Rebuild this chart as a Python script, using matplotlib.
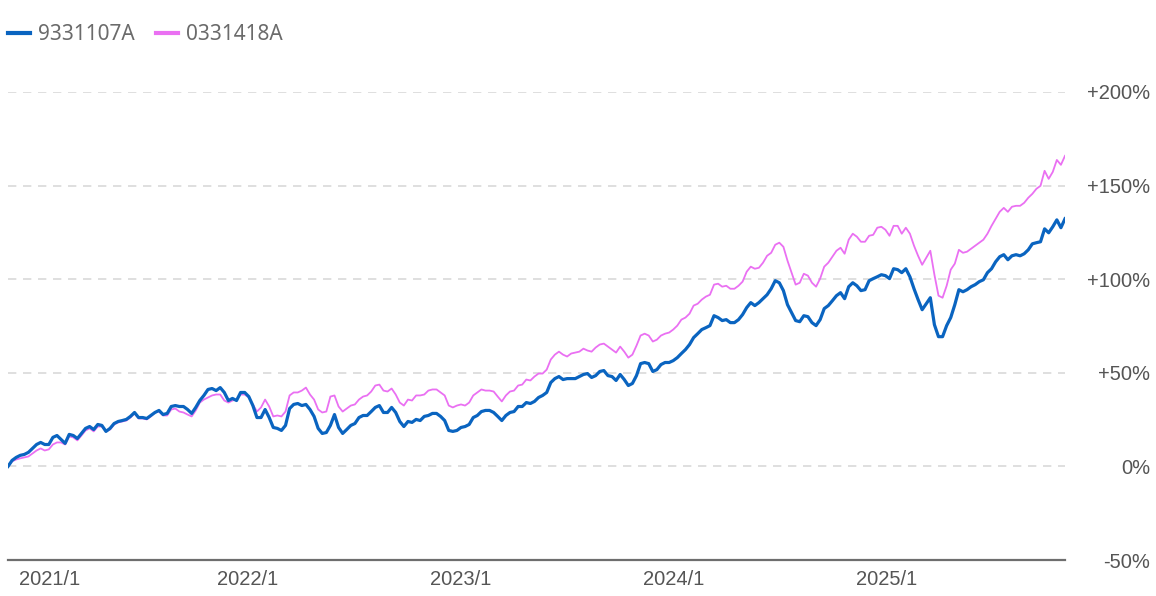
import matplotlib
matplotlib.use("Agg")
import matplotlib.pyplot as plt
import matplotlib.transforms as mtransforms
import pandas as pd

# ---- data (cumulative return, %) weekly ----
start_date = "2020-11-16"
series_names = ["9331107A", "0331418A"]

fund_a = [0, 3.2, 4.8, 5.9, 6.4, 7.5, 9.6, 11.7, 12.8, 11.7, 11.7, 15.5, 16.5, 14.4, 12.3, 17.1, 16.5, 14.9, 17.6, 20.3,
          21.3, 19.7, 22.4, 21.9, 18.7, 20.3, 22.9, 24.0, 24.5, 25.1, 26.7, 28.8, 26.1, 26.1, 25.6, 27.2, 28.8, 29.9, 27.7, 28.3,
          32.0, 32.5, 32.0, 32.0, 30.4, 28.3, 31.5, 35.2, 37.9, 41.1, 41.6, 40.5, 42.1, 39.5, 35.2, 36.3, 35.2, 39.5, 39.5, 37.3,
          32.5, 26.1, 26.1, 30.4, 26.1, 20.8, 20.3, 19.2, 21.9, 30.9, 33.1, 33.6, 32.5, 33.1, 30.4, 26.7, 20.3, 17.6, 18.1, 21.9,
          27.7, 20.8, 17.6, 19.7, 21.9, 22.9, 26.1, 27.2, 27.2, 29.3, 31.5, 32.5, 28.8, 28.8, 31.5, 28.8, 24.0, 21.3, 24.0, 23.5,
          25.1, 24.5, 26.7, 27.2, 28.3, 28.3, 26.7, 24.5, 19.2, 18.7, 19.2, 20.8, 21.3, 22.4, 26.1, 27.2, 29.3, 29.9, 29.9, 28.8,
          26.7, 24.5, 27.2, 28.8, 29.3, 32.0, 32.0, 34.1, 33.6, 34.7, 36.8, 37.9, 39.5, 44.8, 46.9, 48.0, 46.4, 46.9, 46.9, 46.9,
          48.0, 49.1, 49.6, 47.5, 48.5, 50.7, 51.2, 48.5, 48.0, 45.9, 49.1, 46.4, 43.2, 44.3, 48.5, 54.9, 55.5, 54.9, 50.7, 51.7,
          54.4, 55.5, 55.5, 56.5, 58.1, 60.3, 62.4, 65.1, 68.8, 70.9, 73.1, 74.1, 75.2, 80.5, 79.5, 77.9, 78.4, 76.8, 76.8, 78.4,
          81.1, 84.8, 87.5, 85.9, 87.5, 89.6, 91.7, 94.9, 99.2, 98.1, 93.9, 86.4, 82.1, 77.9, 77.3, 80.5, 80.0, 76.8, 75.2, 78.4,
          84.3, 85.9, 88.5, 91.2, 92.8, 89.6, 96.0, 98.1, 96.5, 93.9, 94.4, 99.2, 100.3, 101.3, 102.4, 101.9, 100.3, 105.6, 105.1, 103.5,
          105.6, 101.3, 94.9, 89.1, 83.7, 86.9, 90.1, 75.7, 69.3, 69.3, 75.2, 79.5, 86.4, 94.4, 93.3, 94.4, 96.0, 97.1, 98.7, 99.7,
          103.5, 105.6, 109.3, 112.0, 113.1, 110.4, 112.5, 113.1, 112.5, 113.6, 115.7, 118.9, 119.5, 120.0, 126.9, 124.8, 128.0, 131.7, 127.5, 132.3]

fund_b = [0, 2.7, 3.7, 4.3, 4.8, 5.3, 6.9, 8.5, 9.6, 8.5, 9.1, 11.7, 12.8, 12.8, 11.7, 16.0, 15.5, 13.9, 16.5, 19.2,
          20.3, 18.7, 21.3, 21.3, 18.7, 19.7, 22.4, 23.5, 24.0, 24.5, 26.1, 28.3, 25.6, 25.6, 25.1, 26.7, 28.8, 29.3, 27.2, 27.2,
          30.4, 30.9, 29.3, 28.8, 27.7, 26.7, 29.9, 34.1, 35.7, 36.8, 37.9, 38.4, 38.4, 35.2, 34.1, 35.2, 35.7, 38.4, 38.4, 36.8,
          33.1, 29.3, 31.5, 35.7, 32.0, 26.7, 27.2, 26.7, 29.3, 37.9, 39.5, 39.5, 40.5, 42.1, 38.4, 35.7, 30.4, 28.8, 29.3, 37.3,
          37.9, 32.0, 29.3, 30.9, 32.5, 33.1, 35.7, 37.3, 37.9, 40.0, 43.2, 43.7, 40.5, 40.0, 41.6, 38.4, 34.1, 32.5, 35.7, 35.2,
          37.9, 37.9, 38.4, 40.5, 41.1, 41.1, 39.5, 37.9, 32.5, 31.5, 32.5, 33.1, 32.5, 34.1, 37.9, 39.5, 41.1, 40.5, 40.5, 40.0,
          37.3, 34.7, 37.9, 40.0, 40.5, 43.2, 43.7, 46.4, 45.9, 48.0, 49.6, 49.6, 51.7, 57.1, 59.7, 61.3, 59.7, 58.7, 60.3, 60.8,
          61.3, 62.9, 61.9, 61.3, 63.5, 65.1, 65.6, 64.0, 62.4, 60.8, 64.0, 61.3, 58.1, 59.7, 64.5, 69.9, 70.9, 69.9, 66.7, 67.7,
          69.9, 70.9, 71.5, 73.1, 75.2, 78.4, 79.5, 81.6, 85.9, 86.9, 89.1, 90.7, 91.7, 97.1, 97.6, 96.0, 96.5, 94.9, 94.9, 96.5,
          98.7, 104.0, 106.7, 105.6, 106.1, 108.8, 112.5, 114.1, 118.4, 119.5, 117.3, 109.9, 103.5, 97.1, 98.1, 102.9, 101.9, 98.1, 96.0, 100.3,
          106.7, 108.8, 112.0, 115.2, 116.8, 113.6, 121.1, 124.3, 122.7, 120.0, 120.0, 123.2, 123.7, 127.5, 128.0, 126.4, 123.2, 128.5, 128.5, 124.3,
          127.5, 124.3, 117.9, 112.5, 107.7, 111.5, 115.2, 102.4, 91.2, 90.1, 96.5, 105.1, 108.3, 115.7, 114.1, 114.7, 116.3, 117.9, 119.5, 121.1,
          124.3, 128.5, 132.3, 136.0, 138.1, 136.0, 138.7, 139.2, 139.2, 140.8, 143.5, 145.6, 148.3, 149.9, 157.9, 153.6, 157.3, 163.7, 161.1, 165.9]

y_ticks = [-50, 0, 50, 100, 150, 200]
y_tick_labels = ["-50%", "0%", "+50%", "+100%", "+150%", "+200%"]
x_tick_dates = ["2021-01-01", "2022-01-01", "2023-01-01", "2024-01-01", "2025-01-01"]
x_tick_labels = ["2021/1", "2022/1", "2023/1", "2024/1", "2025/1"]

colors = ["#0a64c0", "#ea70f2"]

dates_a = pd.date_range(start_date, periods=len(fund_a), freq="7D")
dates_b = pd.date_range(start_date, periods=len(fund_b), freq="7D")

W, H = 1156, 596
fig = plt.figure(figsize=(W / 100, H / 100), dpi=100)
ax = fig.add_axes([8 / W, (H - 560) / H, (1065 - 8) / W, (560 - 92) / H])

for yv in y_ticks[1:]:
    ax.axhline(yv, color="#d9d9d9", lw=1.2, ls=(0, (5, 4)), zorder=1)

ax.plot(dates_b, fund_b, color=colors[1], lw=1.3, zorder=3, label=series_names[1])
ax.plot(dates_a, fund_a, color=colors[0], lw=2.3, zorder=4, label=series_names[0])

ax.set_xlim(dates_a[0], max(dates_a[-1], dates_b[-1]))
ax.set_ylim(-50, 200)

for s in ["top", "left", "right"]:
    ax.spines[s].set_visible(False)
ax.spines["bottom"].set_color("#6e6e6e")
ax.spines["bottom"].set_linewidth(1.6)

ax.yaxis.tick_right()
ax.set_yticks(y_ticks)
ax.set_yticklabels(y_tick_labels, fontsize=14.5, color="#555555", family="Liberation Sans")
ax.tick_params(axis="y", length=0, pad=0)
for lab in ax.get_yticklabels():
    lab.set_horizontalalignment("right")
    lab.set_transform(lab.get_transform() + mtransforms.ScaledTranslation(85 / 100, 0, fig.dpi_scale_trans))

ax.set_xticks(pd.to_datetime(x_tick_dates))
ax.set_xticklabels(x_tick_labels, fontsize=14.5, color="#555555", family="Liberation Sans")
ax.tick_params(axis="x", length=0, pad=7)
first = ax.get_xticklabels()[0]
first.set_transform(first.get_transform() + mtransforms.ScaledTranslation(15 / 100, 0, fig.dpi_scale_trans))

handles, labels = ax.get_legend_handles_labels()
order = [1, 0]
leg = fig.legend([handles[i] for i in order], [labels[i] for i in order],
                 loc="upper left", bbox_to_anchor=(8 / W, 1 - 24 / H), ncol=2, frameon=False,
                 borderpad=0, borderaxespad=0,
                 handlelength=1.05, handletextpad=0.4, columnspacing=1.0,
                 prop={"family": "Noto Sans", "size": 15})
for t in leg.get_texts():
    t.set_color("#6b6b6b")
for lh in leg.get_lines():
    lh.set_linewidth(3)

fig.savefig("out.png", dpi=100)
